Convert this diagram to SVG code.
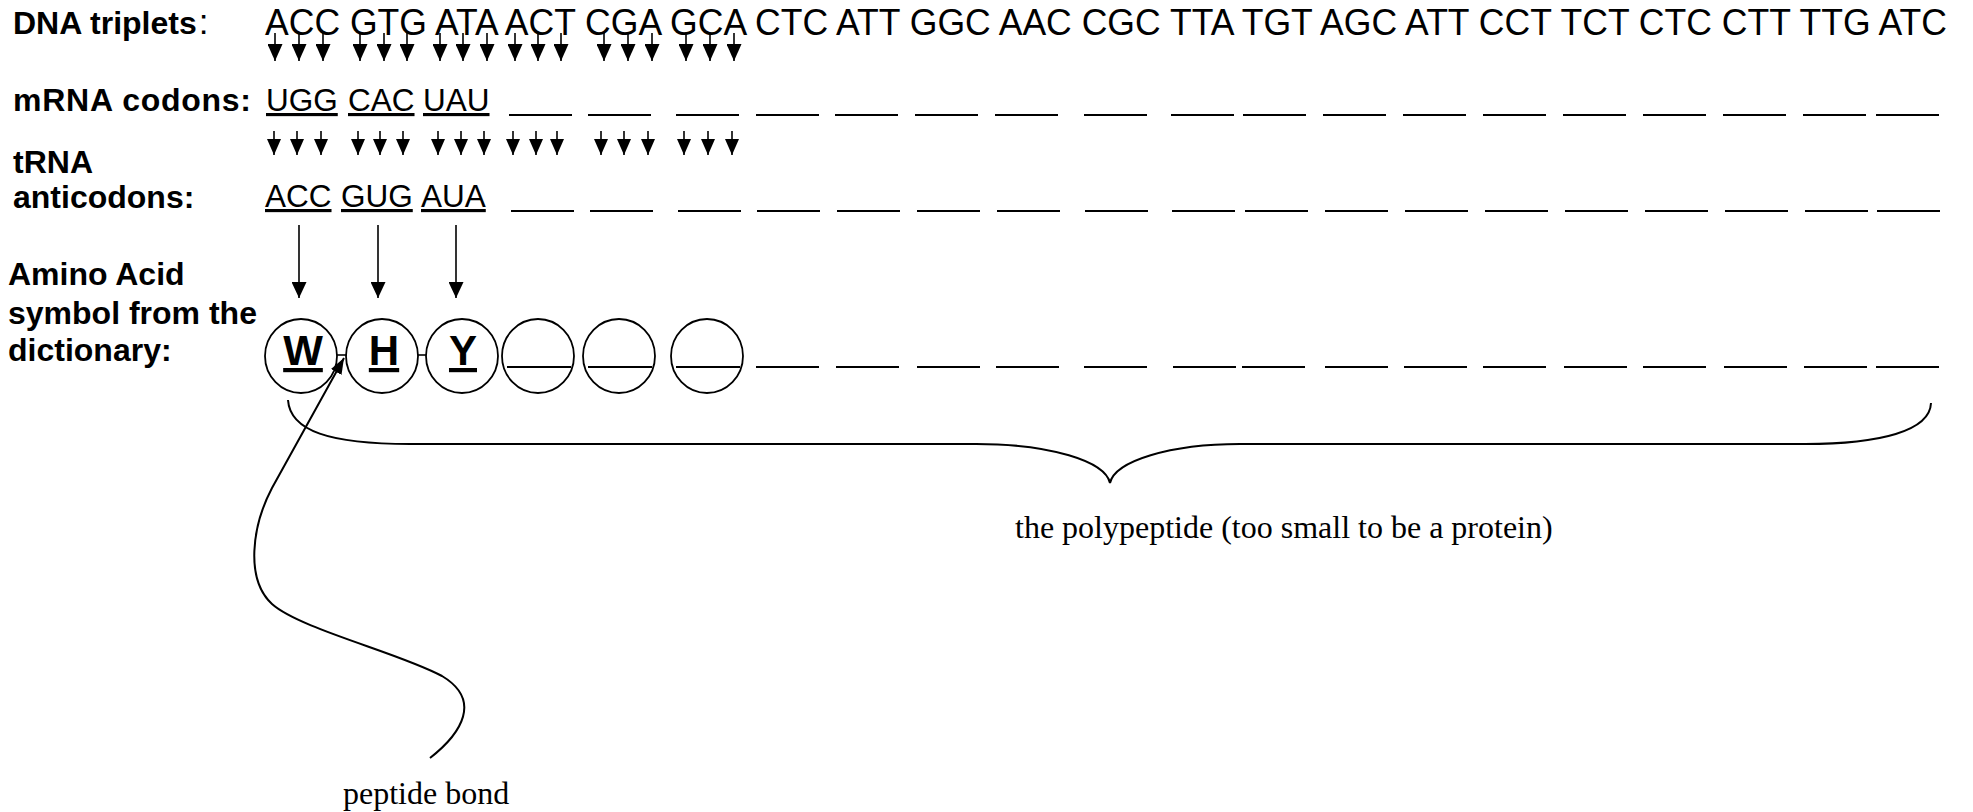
<svg xmlns="http://www.w3.org/2000/svg" width="1973" height="812" viewBox="0 0 1973 812">
<style>
.lbl{font-family:"Liberation Sans",Arial,sans-serif;font-weight:bold;font-size:32px;fill:#000}
.nrm{font-weight:normal}
.dna{font-family:"Liberation Sans",Arial,sans-serif;font-size:36px;fill:#000}
.cod{font-family:"Liberation Sans",Arial,sans-serif;font-size:31.5px;fill:#000;text-decoration:underline}
.aa{font-family:"Liberation Sans",Arial,sans-serif;font-weight:bold;font-size:42px;fill:#000;text-decoration:underline;text-anchor:middle}
.ser{font-family:"Liberation Serif","Times New Roman",serif;font-size:32px;fill:#000}
.blank{stroke:#000;stroke-width:1.8;fill:none}
.circ{fill:#fff;stroke:#000;stroke-width:1.8}
.ln{stroke:#000;stroke-width:1.6;fill:none}
.crv{stroke:#000;stroke-width:2;fill:none}
</style>
<defs>
<marker id="ahS" markerUnits="userSpaceOnUse" markerWidth="17" markerHeight="15" viewBox="0 0 17 15" refX="17" refY="7.5" orient="auto"><path d="M0,0 L17,7.5 L0,15 Z" fill="#000"/></marker>
<marker id="ahS2" markerUnits="userSpaceOnUse" markerWidth="16" markerHeight="14" viewBox="0 0 16 14" refX="16" refY="7" orient="auto"><path d="M0,0 L16,7 L0,14 Z" fill="#000"/></marker>
<marker id="ahL" markerUnits="userSpaceOnUse" markerWidth="16" markerHeight="15" viewBox="0 0 16 15" refX="16" refY="7.5" orient="auto"><path d="M0,0 L16,7.5 L0,15 Z" fill="#000"/></marker>
<marker id="ahP" markerUnits="userSpaceOnUse" markerWidth="16" markerHeight="12" viewBox="0 0 16 12" refX="16" refY="6" orient="auto"><path d="M0,0 L16,6 L0,12 Z" fill="#000"/></marker>
</defs>
<rect width="1973" height="812" fill="#fff"/>

<g id="label-dna"><text class="lbl" x="13" y="34">DNA triplets<tspan class="nrm" dx="2" font-size="35">:</tspan></text></g>
<g id="label-mrna"><text class="lbl" x="13" y="111" textLength="238" lengthAdjust="spacing">mRNA codons:</text></g>
<g id="label-trna"><text class="lbl" x="13" y="173">tRNA</text><text class="lbl" x="13" y="208">anticodons:</text></g>
<g id="label-amino"><text class="lbl" x="8" y="285">Amino Acid</text><text class="lbl" x="8" y="324">symbol from the</text><text class="lbl" x="8" y="361">dictionary:</text></g>

<g id="dna-triplets"><text class="dna" x="265" y="35" textLength="1682" lengthAdjust="spacingAndGlyphs">ACC GTG ATA ACT CGA GCA CTC ATT GGC AAC CGC TTA TGT AGC ATT CCT TCT CTC CTT TTG ATC</text></g>

<g id="mrna-codons">
<text class="cod" x="266" y="111">UGG</text>
<text class="cod" x="348" y="111">CAC</text>
<text class="cod" x="423" y="111">UAU</text>
<g class="blank">
<line x1="509" y1="115" x2="572" y2="115"/><line x1="588" y1="115" x2="651" y2="115"/><line x1="676" y1="115" x2="739" y2="115"/><line x1="756" y1="115" x2="819" y2="115"/><line x1="835" y1="115" x2="898" y2="115"/><line x1="915" y1="115" x2="978" y2="115"/><line x1="995" y1="115" x2="1058" y2="115"/><line x1="1084" y1="115" x2="1147" y2="115"/><line x1="1171" y1="115" x2="1234" y2="115"/><line x1="1243" y1="115" x2="1306" y2="115"/><line x1="1323" y1="115" x2="1386" y2="115"/><line x1="1403" y1="115" x2="1466" y2="115"/><line x1="1483" y1="115" x2="1546" y2="115"/><line x1="1563" y1="115" x2="1626" y2="115"/><line x1="1643" y1="115" x2="1706" y2="115"/><line x1="1723" y1="115" x2="1786" y2="115"/><line x1="1803" y1="115" x2="1866" y2="115"/><line x1="1876" y1="115" x2="1939" y2="115"/>
</g>
</g>

<g id="trna-anticodons">
<text class="cod" x="265" y="207">ACC</text>
<text class="cod" x="341" y="207">GUG</text>
<text class="cod" x="421" y="207">AUA</text>
<g class="blank">
<line x1="511" y1="211" x2="574" y2="211"/><line x1="590" y1="211" x2="653" y2="211"/><line x1="678" y1="211" x2="741" y2="211"/><line x1="757" y1="211" x2="820" y2="211"/><line x1="837" y1="211" x2="900" y2="211"/><line x1="917" y1="211" x2="980" y2="211"/><line x1="997" y1="211" x2="1060" y2="211"/><line x1="1085" y1="211" x2="1148" y2="211"/><line x1="1172" y1="211" x2="1235" y2="211"/><line x1="1245" y1="211" x2="1308" y2="211"/><line x1="1325" y1="211" x2="1388" y2="211"/><line x1="1405" y1="211" x2="1468" y2="211"/><line x1="1485" y1="211" x2="1548" y2="211"/><line x1="1565" y1="211" x2="1628" y2="211"/><line x1="1645" y1="211" x2="1708" y2="211"/><line x1="1725" y1="211" x2="1788" y2="211"/><line x1="1805" y1="211" x2="1868" y2="211"/><line x1="1877" y1="211" x2="1940" y2="211"/>
</g>
</g>

<g id="aa-1"><ellipse class="circ" cx="301" cy="356" rx="36" ry="37"/><text class="aa" x="303" y="365">W</text></g>
<g id="aa-2"><ellipse class="circ" cx="382" cy="356" rx="36" ry="37"/><text class="aa" x="384" y="365">H</text></g>
<g id="aa-3"><ellipse class="circ" cx="462" cy="356" rx="36" ry="37"/><text class="aa" x="463" y="365">Y</text></g>
<g id="aa-4"><ellipse class="circ" cx="538" cy="356" rx="36" ry="37"/><line class="blank" x1="507" y1="367" x2="571" y2="367"/></g>
<g id="aa-5"><ellipse class="circ" cx="619" cy="356" rx="36" ry="37"/><line class="blank" x1="588" y1="367" x2="652" y2="367"/></g>
<g id="aa-6"><ellipse class="circ" cx="707" cy="356" rx="36" ry="37"/><line class="blank" x1="676" y1="367" x2="740" y2="367"/></g>
<g id="aa-blanks" class="blank">
<line x1="756" y1="367" x2="819" y2="367"/><line x1="836" y1="367" x2="899" y2="367"/><line x1="917" y1="367" x2="980" y2="367"/><line x1="996" y1="367" x2="1059" y2="367"/><line x1="1084" y1="367" x2="1147" y2="367"/><line x1="1173" y1="367" x2="1236" y2="367"/><line x1="1242" y1="367" x2="1305" y2="367"/><line x1="1325" y1="367" x2="1388" y2="367"/><line x1="1404" y1="367" x2="1467" y2="367"/><line x1="1483" y1="367" x2="1546" y2="367"/><line x1="1564" y1="367" x2="1627" y2="367"/><line x1="1643" y1="367" x2="1706" y2="367"/><line x1="1724" y1="367" x2="1787" y2="367"/><line x1="1804" y1="367" x2="1867" y2="367"/><line x1="1876" y1="367" x2="1939" y2="367"/>
</g>

<g id="label-polypeptide"><text class="ser" x="1015" y="538">the polypeptide (too small to be a protein)</text></g>
<g id="label-peptide-bond"><text class="ser" x="343" y="804">peptide bond</text></g>

<g id="connectors">
<g class="ln" marker-end="url(#ahS)">
<line x1="275" y1="33" x2="275" y2="61"/><line x1="299" y1="33" x2="299" y2="61"/><line x1="323" y1="33" x2="323" y2="61"/>
<line x1="360" y1="33" x2="360" y2="61"/><line x1="384" y1="33" x2="384" y2="61"/><line x1="407" y1="33" x2="407" y2="61"/>
<line x1="440" y1="33" x2="440" y2="61"/><line x1="463" y1="33" x2="463" y2="61"/><line x1="487" y1="33" x2="487" y2="61"/>
<line x1="515" y1="33" x2="515" y2="61"/><line x1="538" y1="33" x2="538" y2="61"/><line x1="561" y1="33" x2="561" y2="61"/>
<line x1="604" y1="33" x2="604" y2="61"/><line x1="628" y1="33" x2="628" y2="61"/><line x1="652" y1="33" x2="652" y2="61"/>
<line x1="686" y1="33" x2="686" y2="61"/><line x1="710" y1="33" x2="710" y2="61"/><line x1="734" y1="33" x2="734" y2="61"/>
</g>
<g class="ln" marker-end="url(#ahS2)">
<line x1="274" y1="131" x2="274" y2="155"/><line x1="297" y1="131" x2="297" y2="155"/><line x1="321" y1="131" x2="321" y2="155"/>
<line x1="358" y1="131" x2="358" y2="155"/><line x1="380" y1="131" x2="380" y2="155"/><line x1="403" y1="131" x2="403" y2="155"/>
<line x1="438" y1="131" x2="438" y2="155"/><line x1="461" y1="131" x2="461" y2="155"/><line x1="484" y1="131" x2="484" y2="155"/>
<line x1="513" y1="131" x2="513" y2="155"/><line x1="536" y1="131" x2="536" y2="155"/><line x1="557" y1="131" x2="557" y2="155"/>
<line x1="601" y1="131" x2="601" y2="155"/><line x1="624" y1="131" x2="624" y2="155"/><line x1="648" y1="131" x2="648" y2="155"/>
<line x1="684" y1="131" x2="684" y2="155"/><line x1="708" y1="131" x2="708" y2="155"/><line x1="732" y1="131" x2="732" y2="155"/>
</g>
<g class="ln" marker-end="url(#ahL)">
<line x1="299" y1="225" x2="299" y2="298"/><line x1="378" y1="225" x2="378" y2="298"/><line x1="456" y1="225" x2="456" y2="298"/>
</g>
<line class="ln" x1="337" y1="355" x2="347" y2="355"/>
<line class="ln" x1="418" y1="355" x2="426" y2="355"/>
<path class="crv" d="M 288 400 C 290 431, 330 444, 410 444 L 976 444 C 1050 444, 1105 461, 1110 483 C 1115 461, 1170 444, 1240 444 L 1805 444 C 1880 444, 1930 431, 1931 403"/>
<path class="crv" marker-end="url(#ahP)" d="M 430 758 C 462 733, 482 700, 442 676 C 400 653, 300 629, 272 604 C 245 579, 252 526, 272 488 L 344 358"/>
</g>
</svg>
